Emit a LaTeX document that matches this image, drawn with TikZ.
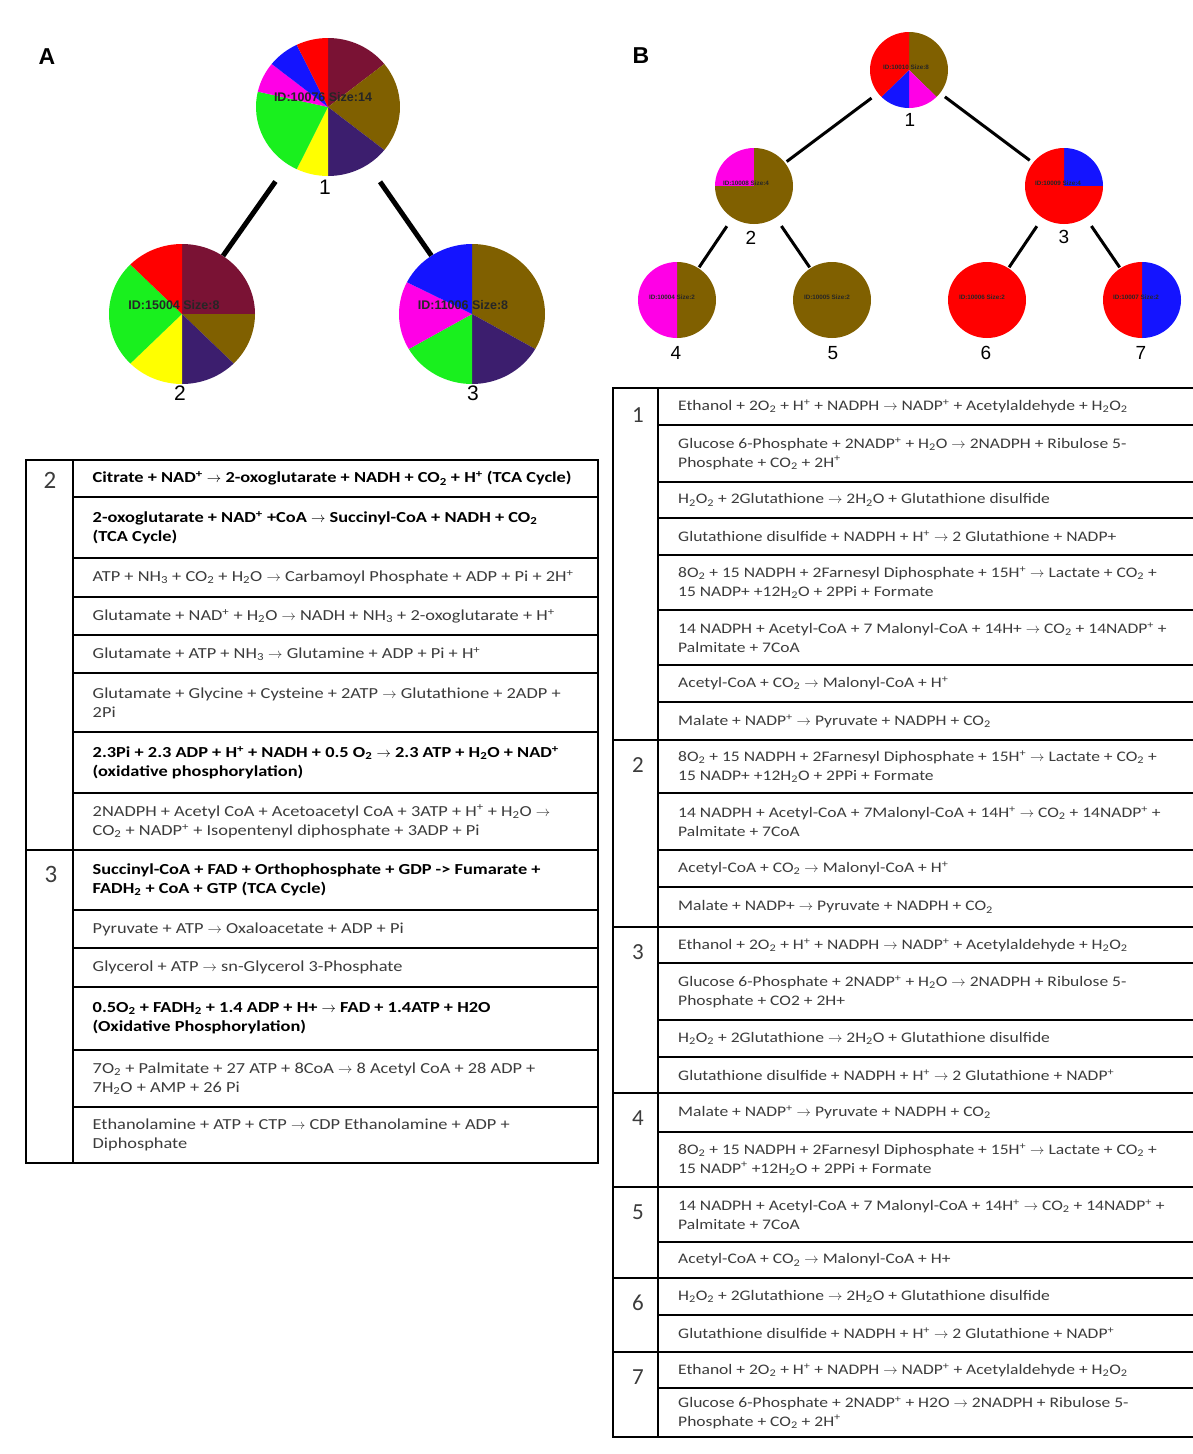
\documentclass[tikz,border=0pt]{standalone}
\usepackage{fontspec}
\setmainfont{Carlito}
\newfontfamily\tabfont{Carlito}[FakeStretch=1.2]
\newfontfamily\arialf{Liberation Sans}
\usetikzlibrary{shapes.geometric}
\definecolor{cMaroon}{RGB}{122,18,52}
\definecolor{cBrown}{RGB}{128,96,0}
\definecolor{cIndigo}{RGB}{60,30,110}
\definecolor{cGreen}{RGB}{25,240,30}
\definecolor{cYellow}{RGB}{255,255,0}
\definecolor{cRed}{RGB}{255,0,0}
\definecolor{cBlue}{RGB}{20,20,255}
\definecolor{cMagenta}{RGB}{255,0,230}
\definecolor{txtgray}{RGB}{60,60,60}
\newcommand\Up[1]{\textsuperscript{#1}}
\newcommand\Dn[1]{\textsubscript{#1}}
\newcommand\ra{$\rightarrow$}
\newcommand\slice[6]{\fill[#6] (#1.center) -- ++(#4:#2pt and #3pt) arc[start angle=#4, end angle=#5, x radius=#2pt, y radius=#3pt] -- cycle;}
\newcommand\rowA[4]{\draw[tline] (73,#1) rectangle (598,#2); \node[rtxtA] (#3) at (92.5,{(#1+#2)/2}) {#4};}
\newcommand\rowB[4]{\draw[tline] (1193,#1) -- (658,#1) -- (658,#2) -- (1193,#2); \node[rtxtB] (#3) at (678,{(#1+#2)/2}) {#4};}
\tikzset{
  pieA/.style={ellipse, inner sep=0pt, minimum width=146pt, minimum height=140pt},
  pieB/.style={ellipse, inner sep=0pt, minimum width=78pt, minimum height=76pt},
  numlabA/.style={font=\arialf\fontsize{21}{21}\selectfont, inner sep=0pt},
  numlabB/.style={font=\arialf\fontsize{19}{19}\selectfont, inner sep=0pt},
  panel/.style={font=\arialf\bfseries\fontsize{23}{23}\selectfont, inner sep=0pt},
  pietxtA/.style={font=\arialf\bfseries\fontsize{12.5}{12.5}\selectfont, inner sep=0pt, text=black!85},
  pietxtB/.style={font=\arialf\bfseries\fontsize{6.3}{6.3}\selectfont, inner sep=0pt, text=black!85},
  edgeA/.style={line width=5pt, black},
  edgeB/.style={line width=3pt, black},
  tline/.style={line width=2pt, black},
  rtxtA/.style={anchor=west, align=left, inner sep=0pt, text=txtgray, font=\tabfont\fontsize{15.3}{19.3}\selectfont},
  rtxtB/.style={anchor=west, align=left, inner sep=0pt, text=txtgray, font=\tabfont\fontsize{14.6}{18.5}\selectfont},
  grpA/.style={font=\fontsize{25}{25}\selectfont, inner sep=0pt, text=txtgray},
  grpB/.style={font=\fontsize{23}{23}\selectfont, inner sep=0pt, text=txtgray}
}
\begin{document}
\begin{tikzpicture}[x=1pt,y=-1pt]
\path[use as bounding box, fill=white] (0,0) rectangle (1193,1454);

% ---------------- Panel A tree ----------------
\node[panel] (labA) at (47,57) {A};
\node[pieA] (pA1) at (328,107) {};
\node[pieA] (pA2) at (182,314) {};
\node[pieA] (pA3) at (472,314) {};
\slice{pA1}{72}{69}{90}{38.57}{cMaroon}
\slice{pA1}{72}{69}{38.57}{-38.57}{cBrown}
\slice{pA1}{72}{69}{-38.57}{-90}{cIndigo}
\slice{pA1}{72}{69}{-90}{-115.71}{cYellow}
\slice{pA1}{72}{69}{-115.71}{-192.86}{cGreen}
\slice{pA1}{72}{69}{-192.86}{-218.57}{cMagenta}
\slice{pA1}{72}{69}{-218.57}{-244.29}{cBlue}
\slice{pA1}{72}{69}{-244.29}{-270}{cRed}
\slice{pA2}{73}{70}{90}{0}{cMaroon}
\slice{pA2}{73}{70}{0}{-45}{cBrown}
\slice{pA2}{73}{70}{-45}{-90}{cIndigo}
\slice{pA2}{73}{70}{-90}{-135}{cYellow}
\slice{pA2}{73}{70}{-135}{-225}{cGreen}
\slice{pA2}{73}{70}{-225}{-270}{cRed}
\slice{pA3}{73}{70}{90}{-30}{cBrown}
\slice{pA3}{73}{70}{-30}{-90}{cIndigo}
\slice{pA3}{73}{70}{-90}{-150}{cGreen}
\slice{pA3}{73}{70}{-150}{-207}{cMagenta}
\slice{pA3}{73}{70}{-207}{-270}{cBlue}
\node[pietxtA] (tA1) at (323,97) {ID:10076 Size:14};
\node[pietxtA] (tA2) at (174,305) {ID:15004 Size:8};
\node[pietxtA] (tA3) at (463,305) {ID:11006 Size:8};
\node[numlabA] (nA1) at (325,187) {1};
\node[numlabA] (nA2) at (180,393) {2};
\node[numlabA] (nA3) at (473,393) {3};
\draw[edgeA, shorten <=20pt] (pA1) -- (pA2);
\draw[edgeA, shorten <=20pt] (pA1) -- (pA3);

% ---------------- Panel B tree ----------------
\node[panel] (labB) at (641,56) {B};
\node[pieB] (pB1) at (909,70) {};
\node[pieB] (pB2) at (754,186) {};
\node[pieB] (pB3) at (1064,186) {};
\node[pieB] (pB4) at (677,300) {};
\node[pieB] (pB5) at (832,300) {};
\node[pieB] (pB6) at (987,300) {};
\node[pieB] (pB7) at (1142,300) {};
\slice{pB1}{39}{38}{90}{-45}{cBrown}
\slice{pB1}{39}{38}{-45}{-90}{cMagenta}
\slice{pB1}{39}{38}{-90}{-135}{cBlue}
\slice{pB1}{39}{38}{-135}{-270}{cRed}
\slice{pB2}{39}{38}{180}{90}{cMagenta}
\slice{pB2}{39}{38}{90}{-180}{cBrown}
\slice{pB3}{39}{38}{90}{0}{cBlue}
\slice{pB3}{39}{38}{0}{-270}{cRed}
\slice{pB4}{39}{38}{90}{-90}{cBrown}
\slice{pB4}{39}{38}{-90}{-270}{cMagenta}
\slice{pB5}{39}{38}{90}{-270}{cBrown}
\slice{pB6}{39}{38}{90}{-270}{cRed}
\slice{pB7}{39}{38}{90}{-90}{cBlue}
\slice{pB7}{39}{38}{-90}{-270}{cRed}
\node[pietxtB] (tB1) at (906,67) {ID:10010 Size:8};
\node[pietxtB] (tB2) at (746,183) {ID:10008 Size:4};
\node[pietxtB] (tB3) at (1058,183) {ID:10009 Size:4};
\node[pietxtB] (tB4) at (672,297) {ID:10004 Size:2};
\node[pietxtB] (tB5) at (827,297) {ID:10005 Size:2};
\node[pietxtB] (tB6) at (982,297) {ID:10006 Size:2};
\node[pietxtB] (tB7) at (1136,297) {ID:10007 Size:2};
\node[numlabB] (nB1) at (910,120) {1};
\node[numlabB] (nB2) at (751,238) {2};
\node[numlabB] (nB3) at (1064,237) {3};
\node[numlabB] (nB4) at (676,353) {4};
\node[numlabB] (nB5) at (833,353) {5};
\node[numlabB] (nB6) at (986,353) {6};
\node[numlabB] (nB7) at (1141,353) {7};
\draw[edgeB, shorten <=8pt, shorten >=2pt] (pB1) -- (pB2);
\draw[edgeB, shorten <=6pt, shorten >=4pt] (pB1) -- (pB3);
\draw[edgeB, shorten <=10pt, shorten >=1pt] (pB2) -- (pB4);
\draw[edgeB, shorten <=10pt, shorten >=1pt] (pB2) -- (pB5);
\draw[edgeB, shorten <=10pt, shorten >=1pt] (pB3) -- (pB6);
\draw[edgeB, shorten <=10pt, shorten >=1pt] (pB3) -- (pB7);

% ---------------- Panel A table ----------------
\draw[tline] (26,460) rectangle (73,850);
\draw[tline] (26,850) rectangle (73,1163);
\node[grpA] (gA2) at (50,480) {2};
\node[grpA] (gA3) at (51,874) {3};
\rowA{460}{497}{a21}{\textbf{\color{black}Citrate + NAD\Up{+} \ra{} 2-oxoglutarate + NADH + CO\Dn{2} + H\Up{+} (TCA Cycle)}}
\rowA{497}{558}{a22}{\textbf{\color{black}2-oxoglutarate + NAD\Up{+} +CoA \ra{} Succinyl-CoA + NADH + CO\Dn{2}}\\\textbf{\color{black}(TCA Cycle)}}
\rowA{558}{597}{a23}{ATP + NH\Dn{3} + CO\Dn{2} + H\Dn{2}O \ra{} Carbamoyl Phosphate + ADP + Pi + 2H\Up{+}}
\rowA{597}{635}{a24}{Glutamate + NAD\Up{+} + H\Dn{2}O \ra{} NADH + NH\Dn{3} + 2-oxoglutarate + H\Up{+}}
\rowA{635}{673}{a25}{Glutamate + ATP + NH\Dn{3} \ra{} Glutamine + ADP + Pi + H\Up{+}}
\rowA{673}{732}{a26}{Glutamate + Glycine + Cysteine + 2ATP \ra{} Glutathione + 2ADP +\\2Pi}
\rowA{732}{793}{a27}{\textbf{\color{black}2.3Pi + 2.3 ADP + H\Up{+} + NADH + 0.5 O\Dn{2} \ra{} 2.3 ATP + H\Dn{2}O + NAD\Up{+}}\\\textbf{\color{black}(oxidative phosphorylation)}}
\rowA{793}{850}{a28}{2NADPH + Acetyl CoA + Acetoacetyl CoA + 3ATP + H\Up{+} + H\Dn{2}O \ra{}\\CO\Dn{2} + NADP\Up{+} + Isopentenyl diphosphate + 3ADP + Pi}
\rowA{850}{910}{a31}{\textbf{\color{black}Succinyl-CoA + FAD + Orthophosphate + GDP -> Fumarate +}\\\textbf{\color{black}FADH\Dn{2} + CoA + GTP (TCA Cycle)}}
\rowA{910}{948}{a32}{Pyruvate + ATP \ra{} Oxaloacetate + ADP + Pi}
\rowA{948}{987}{a33}{Glycerol + ATP \ra{} sn-Glycerol 3-Phosphate}
\rowA{987}{1050}{a34}{\textbf{\color{black}0.5O\Dn{2} + FADH\Dn{2} + 1.4 ADP + H+ \ra{} FAD + 1.4ATP + H2O}\\\textbf{\color{black}(Oxidative Phosphorylation)}}
\rowA{1050}{1107}{a35}{7O\Dn{2} + Palmitate + 27 ATP + 8CoA \ra{} 8 Acetyl CoA + 28 ADP +\\7H\Dn{2}O + AMP + 26 Pi}
\rowA{1107}{1163}{a36}{Ethanolamine + ATP + CTP \ra{} CDP Ethanolamine + ADP +\\Diphosphate}

% ---------------- Panel B table ----------------
\draw[tline] (1193,388) -- (613,388) -- (613,1437) -- (1193,1437);
\foreach \yy in {740,927,1093,1187,1278,1352} {\draw[tline] (613,\yy) -- (658,\yy);}
\node[grpB] (gB1) at (638,415) {1};
\node[grpB] (gB2) at (638,765) {2};
\node[grpB] (gB3) at (638,952) {3};
\node[grpB] (gB4) at (638,1118) {4};
\node[grpB] (gB5) at (638,1212) {5};
\node[grpB] (gB6) at (638,1303) {6};
\node[grpB] (gB7) at (638,1377) {7};
\rowB{388}{425}{b11}{Ethanol + 2O\Dn{2} + H\Up{+} + NADPH \ra{} NADP\Up{+} + Acetylaldehyde + H\Dn{2}O\Dn{2}}
\rowB{425}{482}{b12}{Glucose 6-Phosphate + 2NADP\Up{+} + H\Dn{2}O \ra{} 2NADPH + Ribulose 5-\\Phosphate + CO\Dn{2} + 2H\Up{+}}
\rowB{482}{518}{b13}{H\Dn{2}O\Dn{2} + 2Glutathione \ra{} 2H\Dn{2}O + Glutathione disulfide}
\rowB{518}{555}{b14}{Glutathione disulfide + NADPH + H\Up{+} \ra{} 2 Glutathione + NADP+}
\rowB{555}{610}{b15}{8O\Dn{2} + 15 NADPH + 2Farnesyl Diphosphate + 15H\Up{+} \ra{} Lactate + CO\Dn{2} +\\15 NADP+ +12H\Dn{2}O + 2PPi + Formate}
\rowB{610}{665}{b16}{14 NADPH + Acetyl-CoA + 7 Malonyl-CoA + 14H+ \ra{} CO\Dn{2} + 14NADP\Up{+} +\\Palmitate + 7CoA}
\rowB{665}{702}{b17}{Acetyl-CoA + CO\Dn{2} \ra{} Malonyl-CoA + H\Up{+}}
\rowB{702}{740}{b18}{Malate + NADP\Up{+} \ra{} Pyruvate + NADPH + CO\Dn{2}}
\rowB{740}{793}{b21}{8O\Dn{2} + 15 NADPH + 2Farnesyl Diphosphate + 15H\Up{+} \ra{} Lactate + CO\Dn{2} +\\15 NADP+ +12H\Dn{2}O + 2PPi + Formate}
\rowB{793}{850}{b22}{14 NADPH + Acetyl-CoA + 7Malonyl-CoA + 14H\Up{+} \ra{} CO\Dn{2} + 14NADP\Up{+} +\\Palmitate + 7CoA}
\rowB{850}{887}{b23}{Acetyl-CoA + CO\Dn{2} \ra{} Malonyl-CoA + H\Up{+}}
\rowB{887}{927}{b24}{Malate + NADP+ \ra{} Pyruvate + NADPH + CO\Dn{2}}
\rowB{927}{963}{b31}{Ethanol + 2O\Dn{2} + H\Up{+} + NADPH \ra{} NADP\Up{+} + Acetylaldehyde + H\Dn{2}O\Dn{2}}
\rowB{963}{1020}{b32}{Glucose 6-Phosphate + 2NADP\Up{+} + H\Dn{2}O \ra{} 2NADPH + Ribulose 5-\\Phosphate + CO2 + 2H+}
\rowB{1020}{1057}{b33}{H\Dn{2}O\Dn{2} + 2Glutathione \ra{} 2H\Dn{2}O + Glutathione disulfide}
\rowB{1057}{1093}{b34}{Glutathione disulfide + NADPH + H\Up{+} \ra{} 2 Glutathione + NADP\Up{+}}
\rowB{1093}{1132}{b41}{Malate + NADP\Up{+} \ra{} Pyruvate + NADPH + CO\Dn{2}}
\rowB{1132}{1187}{b42}{8O\Dn{2} + 15 NADPH + 2Farnesyl Diphosphate + 15H\Up{+} \ra{} Lactate + CO\Dn{2} +\\15 NADP\Up{+} +12H\Dn{2}O + 2PPi + Formate}
\rowB{1187}{1242}{b51}{14 NADPH + Acetyl-CoA + 7 Malonyl-CoA + 14H\Up{+} \ra{} CO\Dn{2} + 14NADP\Up{+} +\\Palmitate + 7CoA}
\rowB{1242}{1278}{b52}{Acetyl-CoA + CO\Dn{2} \ra{} Malonyl-CoA + H+}
\rowB{1278}{1315}{b61}{H\Dn{2}O\Dn{2} + 2Glutathione \ra{} 2H\Dn{2}O + Glutathione disulfide}
\rowB{1315}{1352}{b62}{Glutathione disulfide + NADPH + H\Up{+} \ra{} 2 Glutathione + NADP\Up{+}}
\rowB{1352}{1388}{b71}{Ethanol + 2O\Dn{2} + H\Up{+} + NADPH \ra{} NADP\Up{+} + Acetylaldehyde + H\Dn{2}O\Dn{2}}
\rowB{1388}{1437}{b72}{Glucose 6-Phosphate + 2NADP\Up{+} + H2O \ra{} 2NADPH + Ribulose 5-\\Phosphate + CO\Dn{2} + 2H\Up{+}}
\end{tikzpicture}
\end{document}
